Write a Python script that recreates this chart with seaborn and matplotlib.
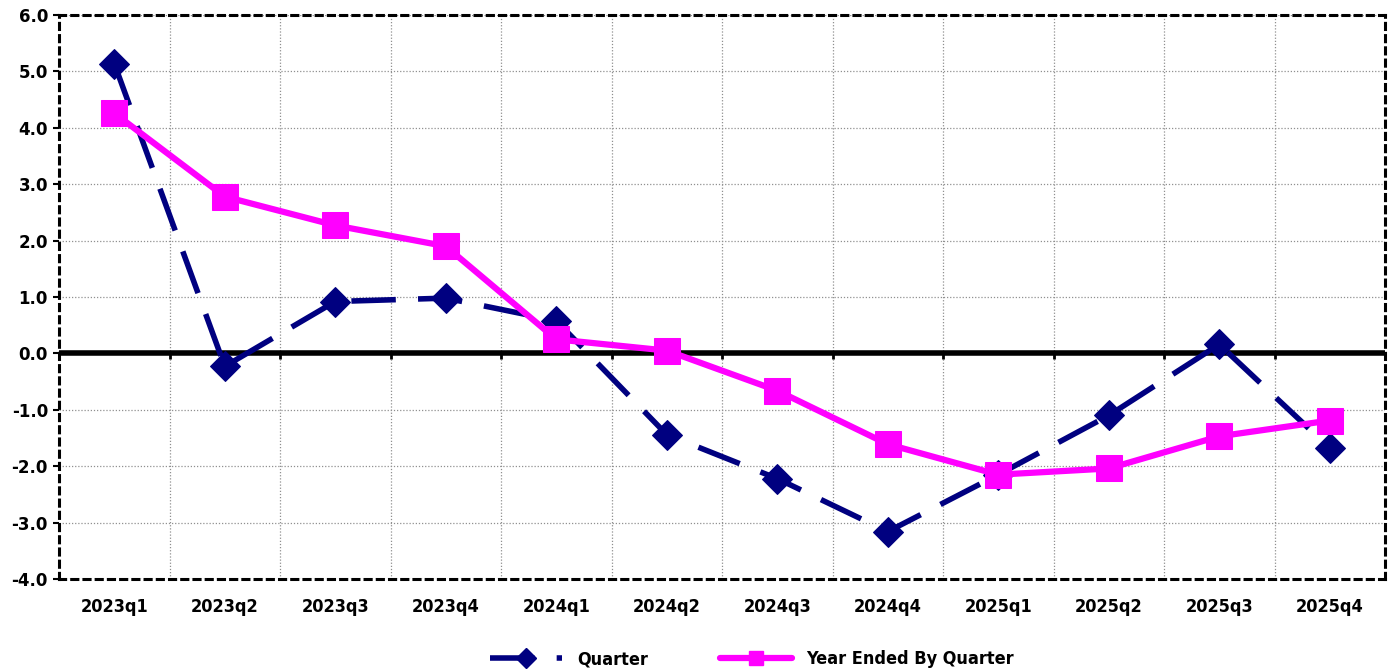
import numpy as np
import pandas as pd
import matplotlib
matplotlib.use("Agg")
import matplotlib.pyplot as plt
import seaborn as sns
from matplotlib.lines import Line2D

quarters = ["2023q1", "2023q2", "2023q3", "2023q4", "2024q1", "2024q2",
            "2024q3", "2024q4", "2025q1", "2025q2", "2025q3", "2025q4"]
quarter_vals = [5.14, -0.23, 0.92, 0.98, 0.58, -1.44, -2.22, -3.16, -2.15, -1.10, 0.16, -1.68]
year_vals = [4.26, 2.78, 2.27, 1.90, 0.25, 0.05, -0.66, -1.61, -2.15, -2.04, -1.47, -1.19]

sns.set_style("white")
plt.rcParams["text.color"] = "black"
plt.rcParams["xtick.color"] = "black"
plt.rcParams["ytick.color"] = "black"

df = pd.DataFrame({"pos": np.arange(len(quarters)), "quarter": quarter_vals, "year": year_vals})

fig = plt.figure(figsize=(13.93, 6.70), dpi=100)
ax = fig.add_axes([59 / 1393, 91 / 670, 1326 / 1393, 564 / 670])

navy = "#000080"
magenta = "#FF00FF"
narrow = {"family": "DejaVu Sans", "stretch": "condensed", "weight": "bold", "size": 13}

# grid
ax.set_xlim(-0.5, len(quarters) - 0.5)
ax.set_ylim(-4, 6)
ax.set_yticks(np.arange(-4, 7, 1))
ax.set_xticks(np.arange(len(quarters)))
ax.set_xticks(np.arange(0.5, len(quarters) - 0.5, 1), minor=True)
ax.grid(True, which="major", axis="y", color="#909090", linestyle=(0, (1, 1.5)), linewidth=0.9)
ax.grid(True, which="minor", axis="x", color="#909090", linestyle=(0, (1, 1.5)), linewidth=0.9)
ax.set_axisbelow(True)

ax.axhline(0, color="black", linewidth=4, zorder=2)
ax.vlines(np.arange(0.5, len(quarters), 1), -0.1, 0, color="black", linewidth=2, zorder=2)

sns.lineplot(data=df, x="pos", y="quarter", ax=ax, color=navy, linewidth=4,
             marker="D", markersize=15, markeredgecolor=navy, zorder=3)
ax.lines[-1].set_linestyle((0, (8, 4)))
sns.lineplot(data=df, x="pos", y="year", ax=ax, color=magenta, linewidth=4.5,
             marker="s", markersize=19, markeredgecolor=magenta, zorder=4)

ax.set_xlabel("")
ax.set_ylabel("")
ax.set_xticklabels(quarters, fontdict=narrow)
ax.set_yticklabels([f"{v:.1f}" for v in np.arange(-4, 7, 1)], fontsize=12, fontweight="bold")
ax.tick_params(axis="x", which="both", length=0, pad=14)
ax.tick_params(axis="y", which="major", length=4, width=1.5, direction="out", left=True, pad=4)

for s in ax.spines.values():
    s.set_linestyle((0, (2, 2)))
    s.set_linewidth(2.2)
    s.set_color("black")

handles = [
    Line2D([], [], color=navy, linewidth=4, linestyle=(0, (8, 4)), marker="D", markersize=10),
    Line2D([], [], color=magenta, linewidth=4.5, marker="s", markersize=10),
]
fig.legend(handles, ["Quarter", "Year Ended By Quarter"], loc="lower center",
           bbox_to_anchor=(0.54, -0.022), ncol=2, frameon=False, handlelength=4,
           columnspacing=4, prop=narrow)

fig.savefig("out.png", dpi=100)
